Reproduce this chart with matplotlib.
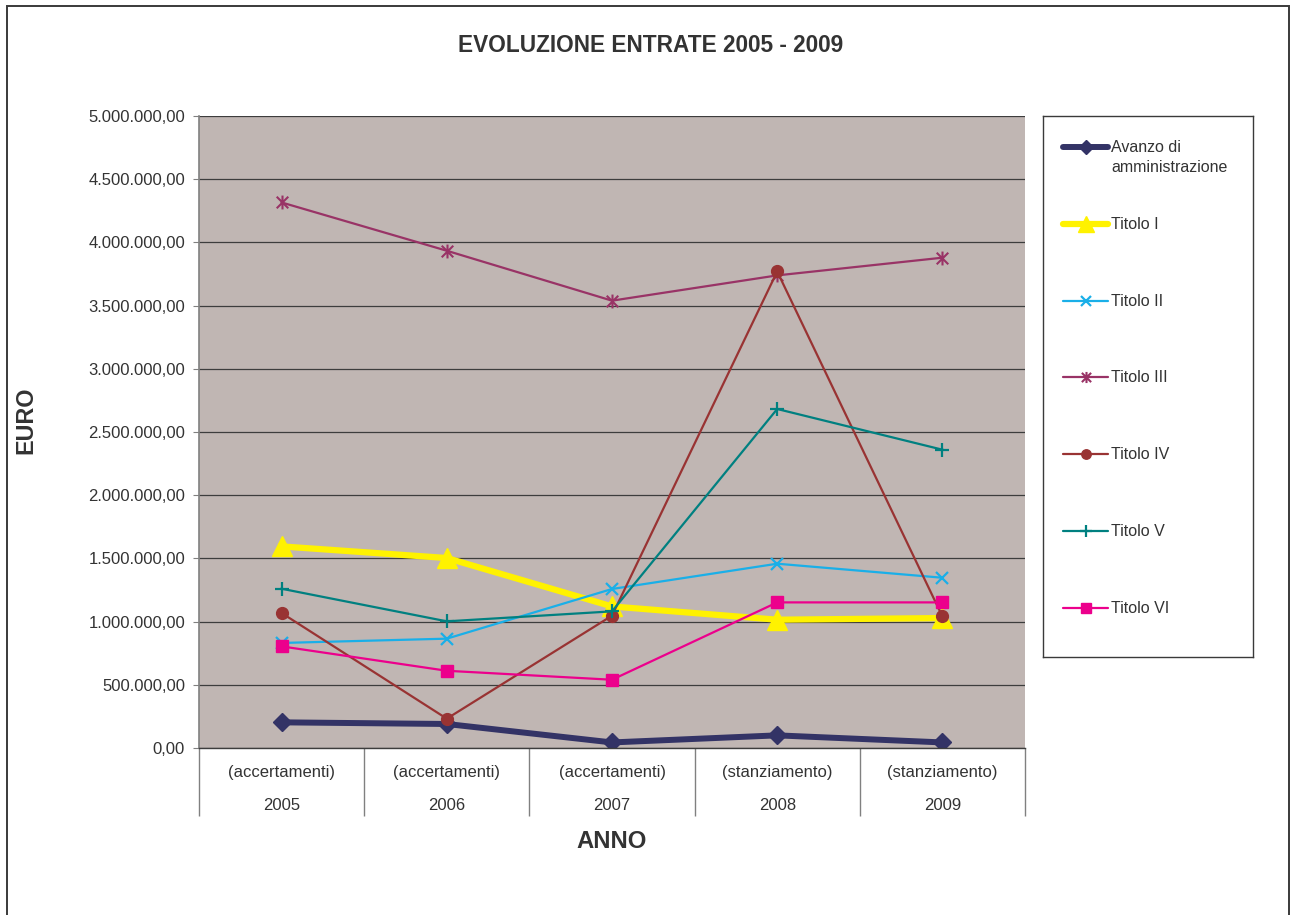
"""Evoluzione entrate 2005 - 2009."""

import matplotlib

matplotlib.use("Agg")
import matplotlib.pyplot as plt
from matplotlib.patches import Rectangle
from matplotlib.path import Path
from matplotlib.ticker import FuncFormatter, MultipleLocator

plt.rcParams["font.family"] = ["Liberation Sans", "DejaVu Sans"]

TEXT = "#333333"

YEARS = ["2005", "2006", "2007", "2008", "2009"]
PHASES = ["(accertamenti)", "(accertamenti)", "(accertamenti)",
          "(stanziamento)", "(stanziamento)"]

SERIES_NAMES = ["Avanzo di\namministrazione", "Titolo I", "Titolo II",
                "Titolo III", "Titolo IV", "Titolo V", "Titolo VI"]

avanzo = [203000, 190000, 44000, 100000, 44000]
titolo_1 = [1595000, 1503000, 1120000, 1015000, 1028000]
titolo_2 = [831000, 865000, 1258000, 1458000, 1347000]
titolo_3 = [4316000, 3934000, 3539000, 3739000, 3879000]
titolo_4 = [1068000, 232000, 1047000, 3770000, 1041000]
titolo_5 = [1260000, 1002000, 1081000, 2682000, 2360000]
titolo_6 = [804000, 611000, 540000, 1152000, 1152000]

SERIES = [avanzo, titolo_1, titolo_2, titolo_3, titolo_4, titolo_5, titolo_6]

# asterisk: an X with a vertical bar through it
ASTERISK = Path(
    [(-0.5, -0.5), (0.5, 0.5), (-0.5, 0.5), (0.5, -0.5), (0, -0.6), (0, 0.6)],
    [Path.MOVETO, Path.LINETO, Path.MOVETO, Path.LINETO, Path.MOVETO, Path.LINETO],
)

# color, linewidth, marker, markersize, marker edge width
STYLES = [
    ("#333366", 4.3, "D", 9.5, 1.0),
    ("#FFF200", 4.5, "^", 14.0, 1.0),
    ("#1AAFE8", 1.6, "x", 9.0, 1.6),
    ("#993366", 1.6, ASTERISK, 10.0, 1.5),
    ("#993333", 1.6, "o", 8.5, 1.0),
    ("#008080", 1.6, "+", 10.0, 1.6),
    ("#EC008C", 1.6, "s", 8.5, 1.0),
]


def euro(value, _pos=None):
    s = f"{value:,.2f}"
    return s.replace(",", "#").replace(".", ",").replace("#", ".")


W, H = 1293, 915
fig = plt.figure(figsize=(W / 100, H / 100), dpi=100)

fig.patches.append(Rectangle((6.5 / W, -0.02), (1289 - 6.5) / W, 1.02 - 6.5 / H,
                             transform=fig.transFigure, fill=False,
                             edgecolor="#3a3a3a", linewidth=1.4))

ax = fig.add_axes([199 / W, (H - 748) / H, (1025 - 199) / W, (748 - 116) / H])
ax.set_facecolor("#C0B6B3")

x = list(range(len(YEARS)))
for values, (color, lw, marker, ms, mew) in zip(SERIES, STYLES):
    ax.plot(x, values, color=color, linewidth=lw, marker=marker,
            markersize=ms, markeredgewidth=mew, markeredgecolor=color,
            markerfacecolor=color, solid_joinstyle="round")

ax.set_xlim(-0.5, len(YEARS) - 0.5)
ax.set_ylim(0, 5000000)
ax.yaxis.set_major_locator(MultipleLocator(500000))
ax.yaxis.set_major_formatter(FuncFormatter(euro))
ax.grid(axis="y", color="#3d3d3d", linewidth=0.9)
ax.set_axisbelow(True)
ax.tick_params(axis="y", labelsize=12, labelcolor=TEXT, length=4,
               color="#808080", pad=6)

for side in ("top", "right"):
    ax.spines[side].set_visible(False)
ax.spines["left"].set_color("#808080")
ax.spines["left"].set_linewidth(1.2)
ax.spines["bottom"].set_color("#3d3d3d")
ax.spines["bottom"].set_linewidth(1.0)

# category table under the axis: boundaries as long minor ticks
ax.set_xticks(x)
ax.set_xticklabels([])
ax.tick_params(axis="x", which="major", length=0)
ax.set_xticks([i - 0.5 for i in range(len(YEARS) + 1)], minor=True)
ax.tick_params(axis="x", which="minor", length=49, color="#808080", width=1.0)

xform = ax.get_xaxis_transform()
for i, (phase, year) in enumerate(zip(PHASES, YEARS)):
    ax.text(i, -25 / 632, phase, transform=xform, ha="center", va="center",
            fontsize=12, color=TEXT)
    ax.text(i, -58 / 632, year, transform=xform, ha="center", va="center",
            fontsize=12, color=TEXT)

fig.text(0.503, 1 - 45 / H, "EVOLUZIONE ENTRATE 2005 - 2009", ha="center",
         va="center", fontsize=16.3, fontweight="bold", color=TEXT)
fig.text(26 / W, 1 - 420 / H, "EURO", ha="center", va="center", rotation=90,
         fontsize=16.8, fontweight="bold", color=TEXT)
fig.text(612 / W, 1 - 842 / H, "ANNO", ha="center", va="center",
         fontsize=17.2, fontweight="bold", color=TEXT)

# legend box drawn in its own axes, pixel-like coordinates
lax = fig.add_axes([1043 / W, (H - 657) / H, 210 / W, 541 / H])
lax.set_xlim(0, 210)
lax.set_ylim(541, 0)
lax.set_xticks([])
lax.set_yticks([])
for sp in lax.spines.values():
    sp.set_color("#3a3a3a")
    sp.set_linewidth(1.0)

for i, (name, (color, lw, marker, ms, mew)) in enumerate(zip(SERIES_NAMES, STYLES)):
    y = 31 + 76.8 * i
    lax.plot([20, 65], [y, y], color=color, linewidth=lw, solid_capstyle="round")
    lax.plot([43], [y], marker=marker, color=color, markersize=ms * 0.8,
             markeredgewidth=mew, markerfacecolor=color, markeredgecolor=color)
    lax.text(68, y - 7, name, ha="left", va="top", fontsize=11.5,
             color=TEXT, linespacing=1.4)

fig.savefig("out.png", dpi=100)
